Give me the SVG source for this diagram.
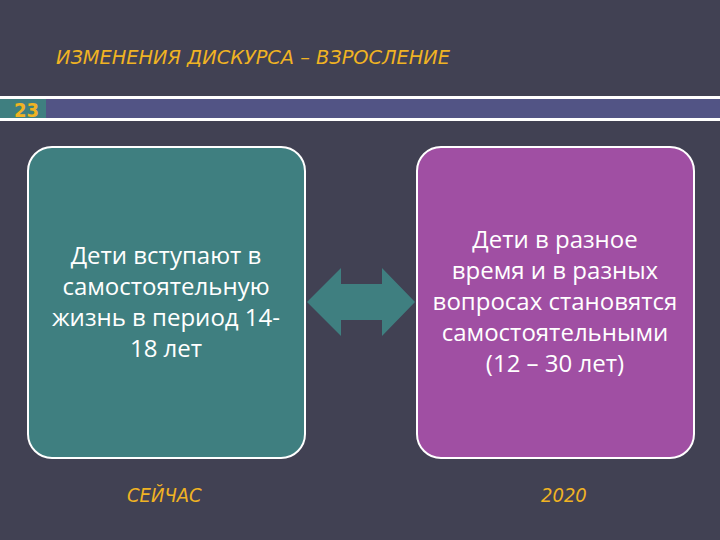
<svg xmlns="http://www.w3.org/2000/svg" width="720" height="540" viewBox="0 0 720 540">
<style>
.hd{font-family:"Comic Sans MS","DejaVu Sans Condensed",sans-serif;fill:#f0b323;font-style:italic}
.bt{font-family:"Open Sans","Noto Sans",sans-serif;font-size:24px;fill:#fff;text-anchor:middle}
.box{stroke:#fff;stroke-width:2}
</style>
<rect width="720" height="540" fill="#414153"/>
<text class="hd" x="56" y="64" font-size="20" textLength="394" lengthAdjust="spacingAndGlyphs">ИЗМЕНЕНИЯ ДИСКУРСА – ВЗРОСЛЕНИЕ</text>
<rect x="0" y="96" width="720" height="3" fill="#fff"/>
<rect x="0" y="118" width="720" height="3" fill="#fff"/>
<rect x="0" y="99" width="46" height="19" fill="#3f7f80"/>
<rect x="46" y="99" width="674" height="19" fill="#525485"/>
<text x="14" y="117" font-family="DejaVu Sans Condensed,sans-serif" font-weight="bold" font-size="20" fill="#f0b323">23</text>
<g id="node-left">
<rect class="box" x="28" y="147" width="277" height="311" rx="24" fill="#3f7f80"/>
<text class="bt"><tspan x="166" y="264">Дети вступают в</tspan><tspan x="166" y="295">самостоятельную</tspan><tspan x="166" y="326">жизнь в период 14-</tspan><tspan x="166" y="357">18 лет</tspan></text>
</g>
<g id="node-right">
<rect class="box" x="417" y="147" width="277" height="311" rx="24" fill="#a04fa3"/>
<text class="bt"><tspan x="555" y="248">Дети в разное</tspan><tspan x="555" y="279">время и в разных</tspan><tspan x="555" y="310">вопросах становятся</tspan><tspan x="555" y="341">самостоятельными</tspan><tspan x="555" y="372">(12 – 30 лет)</tspan></text>
</g>
<g id="connectors">
<polygon points="307,302 341,268 341,284 382,284 382,268 415,302 382,336 382,320 341,320 341,336" fill="#3f7f80"/>
</g>
<text class="hd" x="127" y="502" font-size="20">СЕЙЧАС</text>
<text class="hd" x="541" y="502" font-size="20">2020</text>
</svg>
